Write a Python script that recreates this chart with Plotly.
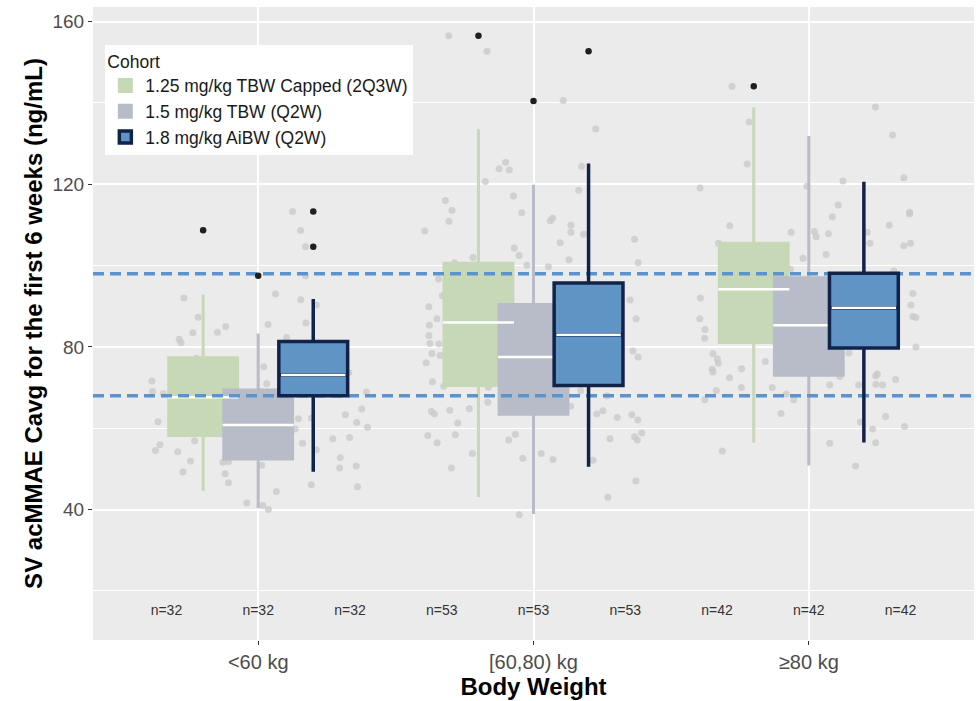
import plotly.graph_objects as go

# ---------------- data ----------------
categories = ["<60 kg", "[60,80) kg", "≥80 kg"]
cat_idx = [1, 2, 3]
cohorts = ["1.25 mg/kg TBW Capped (2Q3W)", "1.5 mg/kg TBW (Q2W)", "1.8 mg/kg AiBW (Q2W)"]

# box statistics (per body-weight category)
green_lf = [44.6, 43.1, 56.5]
green_q1 = [58.2, 70.5, 81.1]
green_med = [67.6, 86.0, 94.2]
green_q3 = [77.3, 100.6, 105.5]
green_uf = [92.9, 133.5, 138.9]

grey_lf = [40.3, 38.9, 50.8]
grey_q1 = [52.4, 63.4, 73.0]
grey_med = [60.8, 77.5, 85.3]
grey_q3 = [69.4, 90.4, 97.0]
grey_uf = [83.3, 119.9, 131.9]

blue_lf = [49.3, 50.5, 56.5]
blue_q1 = [68.0, 70.5, 79.7]
blue_med = [73.1, 83.0, 89.6]
blue_q3 = [81.3, 95.7, 98.1]
blue_uf = [91.8, 125.1, 120.6]

# outliers (category index, value)
green_out_cat = [1, 2, 3]
green_out_y = [108.7, 156.5, 144.1]
grey_out_cat = [1, 2]
grey_out_y = [97.5, 140.5]
blue_out_cat = [1, 1, 2]
blue_out_y = [104.6, 113.3, 152.7]

n_counts = [32, 53, 42]
n_label_y = 15
ref_lines = [68, 98]
y_ticks = [40, 80, 120, 160]
y_minor = [20, 60, 100, 140]

# individual observations (jitter offset from category centre, value)
jit1_dx = [0.125, 0.154, 0.172, 0.172, -0.270, 0.063, 0.155, 0.211, -0.218, -0.118,
           -0.148, -0.237, 0.036, 0.173, -0.287, -0.280, 0.103, 0.020, -0.386, -0.384,
           -0.345, 0.031, 0.329, 0.393, 0.376, 0.317, 0.358, 0.397, -0.364, 0.146,
           0.134, 0.194, 0.271, 0.332, 0.161, 0.211, -0.357, -0.373, -0.292, -0.231,
           -0.246, -0.273, -0.128, -0.108, 0.013, -0.120, -0.108, 0.298, 0.296, 0.356,
           0.193, 0.361, 0.066, -0.041, 0.017, 0.037, -0.224]
jit1_y = [113.3, 108.6, 104.6, 97.5, 92.0, 93.0, 91.6, 90.3, 87.3, 85.0,
          83.6, 83.5, 85.5, 85.9, 81.9, 81.0, 82.3, 75.1, 71.6, 69.0,
          68.5, 70.9, 73.7, 68.9, 64.7, 63.3, 61.4, 60.2, 61.6, 62.3,
          59.8, 62.5, 57.4, 57.7, 56.3, 54.7, 55.9, 54.5, 54.2, 56.9,
          51.9, 49.2, 51.6, 51.8, 50.9, 48.8, 46.6, 52.7, 50.2, 50.7,
          46.1, 45.6, 44.4, 41.6, 41.0, 40.0, 77.2]

jit2_dx = [-0.308, -0.169, 0.108, 0.226, -0.101, -0.125, -0.088, 0.175, -0.175, 0.164,
           -0.073, -0.320, -0.296, -0.307, -0.395, -0.043, 0.061, 0.070, 0.136, 0.136,
           0.097, 0.182, 0.367, 0.380, -0.070, -0.052, -0.220, 0.129, 0.054, -0.024,
           -0.286, -0.345, -0.331, -0.380, -0.351, -0.378, -0.380, -0.344, -0.376, -0.369,
           -0.339, -0.390, -0.367, -0.326, 0.351, 0.373, 0.361, 0.380, -0.371, -0.360,
           -0.304, -0.233, -0.275, -0.166, -0.164, -0.384, -0.350, -0.284, -0.090, -0.066,
           -0.222, -0.298, -0.039, 0.028, 0.071, 0.135, 0.230, 0.252, 0.304, 0.357,
           0.379, 0.278, 0.367, 0.377, 0.393, 0.216, 0.372, 0.270, -0.052, 0.171,
           0.267]
jit2_y = [156.5, 152.7, 140.6, 133.6, 125.4, 123.8, 123.5, 124.4, 120.7, 118.5,
          117.1, 116.0, 113.6, 110.9, 108.5, 113.0, 111.0, 111.7, 109.9, 108.2,
          105.6, 107.7, 106.5, 100.7, 104.3, 102.5, 102.0, 101.4, 99.7, 100.1,
          100.7, 96.7, 92.6, 89.9, 86.9, 85.3, 82.8, 80.7, 80.8, 78.4,
          77.9, 76.1, 71.4, 70.3, 91.5, 86.9, 79.0, 77.5, 64.1, 63.5,
          64.4, 64.8, 61.3, 66.4, 70.1, 58.2, 56.4, 58.4, 57.1, 58.5,
          53.8, 50.2, 52.6, 53.8, 52.3, 65.4, 63.5, 64.3, 62.6, 63.3,
          62.0, 57.4, 57.9, 57.1, 58.8, 52.1, 47.0, 43.0, 38.7, 69.2,
          68.0]

jit3_dx = [-0.279, 0.242, -0.217, 0.304, -0.224, -0.395, 0.124, 0.345, -0.007, 0.107,
           0.085, 0.366, 0.366, -0.287, 0.292, -0.064, 0.020, 0.027, 0.071, 0.212,
           0.222, 0.345, 0.369, -0.328, 0.063, -0.021, -0.067, 0.309, -0.394, 0.378,
           0.371, 0.378, 0.389, -0.396, -0.377, -0.378, 0.389, 0.146, -0.348, -0.332,
           -0.329, -0.351, -0.348, -0.244, -0.158, -0.288, -0.336, -0.378, -0.245, -0.133,
           -0.082, -0.055, -0.101, 0.076, 0.112, 0.181, 0.243, 0.249, 0.244, 0.268,
           0.315, 0.279, 0.348, 0.232, 0.076, 0.243, -0.314, 0.170, 0.187]
jit3_y = [144.1, 139.0, 135.3, 132.1, 125.0, 119.1, 120.8, 121.6, 119.5, 114.9,
          112.0, 113.1, 112.7, 109.8, 109.9, 108.2, 108.4, 107.1, 107.8, 108.2,
          105.5, 104.9, 105.5, 105.5, 102.7, 101.8, 99.1, 98.7, 92.0, 93.1,
          90.3, 87.5, 87.2, 86.9, 84.3, 82.1, 80.0, 78.5, 78.3, 77.0,
          76.0, 74.5, 73.8, 74.6, 76.4, 72.4, 69.3, 67.0, 70.0, 70.0,
          68.4, 67.0, 63.6, 70.6, 72.7, 70.6, 72.9, 73.3, 70.8, 70.6,
          72.0, 62.9, 60.4, 59.8, 56.3, 56.4, 54.4, 50.7, 61.5]

# ---------------- styling ----------------
FONT = "Liberation Sans, Arial, sans-serif"
X_RANGE = [0.4, 3.6]
Y_RANGE = [7.9, 163.6]
DODGE = 0.2
N_DODGE = 1 / 3
BOX_W = 0.25

GREEN = "#c6d8b6"
GREY = "#b7bcc8"
BLUE = "#6094c4"
NAVY = "#12234a"
REF = "#5b93cf"

fig = go.Figure()

# jittered observations (base subplot -> drawn beneath boxes)
pts_x, pts_y = [], []
for c, dxs, ys in [(1, jit1_dx, jit1_y), (2, jit2_dx, jit2_y), (3, jit3_dx, jit3_y)]:
    pts_x += [c + d for d in dxs]
    pts_y += ys
fig.add_trace(go.Scatter(x=pts_x, y=pts_y, mode="markers", showlegend=False,
                         marker=dict(size=7, color="rgba(200,200,200,0.75)"),
                         hoverinfo="skip"))


def median_segments(meds, offset, half):
    xs, ys = [], []
    for c, m in zip(cat_idx, meds):
        xs += [c + offset - half, c + offset + half, None]
        ys += [m, m, None]
    return xs, ys


# light boxes (overlay 1)
for name, off, col, lf, q1, med, q3, uf in [
    (cohorts[0], -DODGE, GREEN, green_lf, green_q1, green_med, green_q3, green_uf),
    (cohorts[1], 0.0, GREY, grey_lf, grey_q1, grey_med, grey_q3, grey_uf),
]:
    fig.add_trace(go.Box(
        name=name, x=[c + off for c in cat_idx], q1=q1, median=med, q3=q3,
        lowerfence=lf, upperfence=uf, orientation="v", width=BOX_W, whiskerwidth=0,
        fillcolor=col, line=dict(color=col, width=3), boxpoints=False,
        xaxis="x2", yaxis="y2", legendrank=cohorts.index(name)))

for off, med in [(-DODGE, green_med), (0.0, grey_med)]:
    mx, my = median_segments(med, off, BOX_W / 2 + 0.004)
    fig.add_trace(go.Scatter(x=mx, y=my, mode="lines", showlegend=False,
                             line=dict(color="white", width=2.5), hoverinfo="skip",
                             xaxis="x2", yaxis="y2"))

# reference dashed lines
for r in ref_lines:
    fig.add_trace(go.Scatter(x=X_RANGE, y=[r, r], mode="lines", showlegend=False,
                             line=dict(color=REF, width=3.5, dash="11px,6px"),
                             hoverinfo="skip", xaxis="x2", yaxis="y2"))

# highlighted box (overlay 2)
fig.add_trace(go.Box(
    name=cohorts[2], x=[c + DODGE for c in cat_idx], q1=blue_q1, median=blue_med,
    q3=blue_q3, lowerfence=blue_lf, upperfence=blue_uf, orientation="v", width=BOX_W,
    whiskerwidth=0, fillcolor=BLUE, line=dict(color=NAVY, width=3.5), boxpoints=False,
    xaxis="x3", yaxis="y3", legendrank=2))
mx, my = median_segments(blue_med, DODGE, BOX_W / 2 - 0.008)
fig.add_trace(go.Scatter(x=mx, y=my, mode="lines", showlegend=False,
                         line=dict(color="white", width=2.5), hoverinfo="skip",
                         xaxis="x3", yaxis="y3"))

# outliers
ox, oy = [], []
for off, cats, ys in [(-DODGE, green_out_cat, green_out_y), (0.0, grey_out_cat, grey_out_y),
                      (DODGE, blue_out_cat, blue_out_y)]:
    ox += [c + off for c in cats]
    oy += ys
fig.add_trace(go.Scatter(x=ox, y=oy, mode="markers", showlegend=False,
                         marker=dict(size=6.5, color="#1f1f1f"), hoverinfo="skip",
                         xaxis="x3", yaxis="y3"))

# n labels
nx, ntext = [], []
for off in [-N_DODGE, 0.0, N_DODGE]:
    for c, n in zip(cat_idx, n_counts):
        nx.append(c + off)
        ntext.append(f"n={n}")
fig.add_trace(go.Scatter(x=nx, y=[n_label_y] * len(nx), mode="text", text=ntext,
                         textfont=dict(size=14, color="#333333", family=FONT),
                         showlegend=False, hoverinfo="skip", xaxis="x3", yaxis="y3"))

hidden = dict(range=X_RANGE, visible=False, showgrid=False, zeroline=False, fixedrange=True)
hiddeny = dict(range=Y_RANGE, visible=False, showgrid=False, zeroline=False, fixedrange=True)

fig.update_layout(
    width=977, height=701,
    margin=dict(l=93, r=3, t=7, b=61),
    paper_bgcolor="white", plot_bgcolor="#EBEBEB",
    font=dict(family=FONT, color="#000000"),
    boxmode="overlay",
    xaxis=dict(range=X_RANGE, tickvals=cat_idx, ticktext=categories,
               showgrid=True, gridcolor="white", gridwidth=1.6, zeroline=False,
               ticks="outside", ticklen=4, tickwidth=1, tickcolor="#333333",
               tickfont=dict(size=20, color="#4d4d4d"),
               title=dict(text="<b>Body Weight</b>", font=dict(size=24, color="#000000"),
                          standoff=4),
               fixedrange=True),
    yaxis=dict(range=Y_RANGE, tickvals=y_ticks, showgrid=True, gridcolor="white",
               gridwidth=1.6, zeroline=False, ticks="outside", ticklen=4, tickwidth=1,
               tickcolor="#333333", tickfont=dict(size=19, color="#4d4d4d"),
               minor=dict(tickvals=y_minor, showgrid=True, gridcolor="white",
                          gridwidth=0.8, ticks=""),
               title=dict(text="<b>SV acMMAE Cavg for the first 6 weeks (ng/mL)</b>",
                          font=dict(size=24, color="#000000"), standoff=3),
               fixedrange=True),
    xaxis2=dict(overlaying="x", anchor="y2", **hidden),
    yaxis2=dict(overlaying="y", anchor="x2", **hiddeny),
    xaxis3=dict(overlaying="x", anchor="y3", **hidden),
    yaxis3=dict(overlaying="y", anchor="x3", **hiddeny),
    legend=dict(x=0.014, y=0.94, xanchor="left", yanchor="top", bgcolor="white",
                borderwidth=0, font=dict(size=17.5, color="#1a1a1a"),
                title=dict(text="Cohort", font=dict(size=17.5, color="#1a1a1a")),
                traceorder="normal", tracegroupgap=0),
)

fig.write_html("out.html")
